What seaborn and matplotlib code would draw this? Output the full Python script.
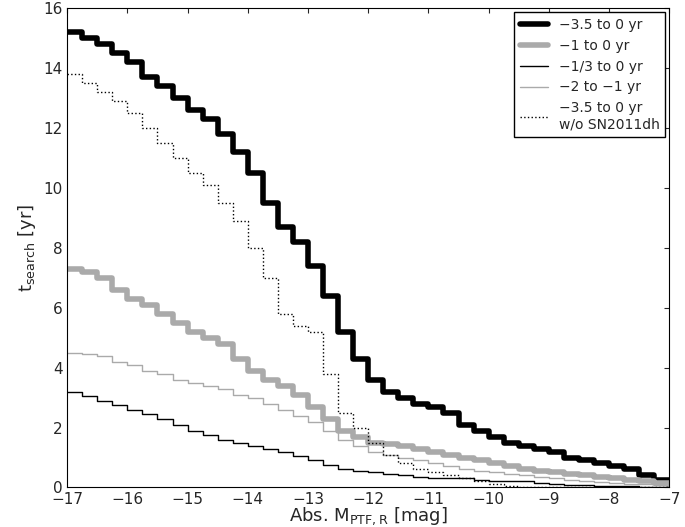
import numpy as np
import pandas as pd
import matplotlib
matplotlib.use("Agg")
import matplotlib.pyplot as plt
import seaborn as sns

# magnitude grid, -17 to -7 in 0.25 mag bins
mag = list(np.linspace(-17, -7, 41))
t_all = [15.2, 15.0, 14.8, 14.5, 14.2, 13.7, 13.4, 13.0, 12.6, 12.3, 11.8,
         11.2, 10.5, 9.5, 8.7, 8.2, 7.4, 6.4, 5.2, 4.3, 3.6, 3.2, 3.0, 2.8,
         2.7, 2.5, 2.1, 1.9, 1.7, 1.5, 1.4, 1.3, 1.2, 1.0, 0.9, 0.8, 0.7,
         0.6, 0.4, 0.25, 0.1]
t_1yr = [7.3, 7.2, 7.0, 6.6, 6.3, 6.1, 5.8, 5.5, 5.2, 5.0, 4.8, 4.3, 3.9,
         3.6, 3.4, 3.1, 2.7, 2.3, 1.9, 1.7, 1.5, 1.45, 1.4, 1.3, 1.2, 1.1,
         1.0, 0.9, 0.8, 0.7, 0.6, 0.55, 0.5, 0.45, 0.4, 0.35, 0.3, 0.25,
         0.2, 0.15, 0.05]
t_third = [3.2, 3.05, 2.9, 2.75, 2.6, 2.45, 2.3, 2.1, 1.9, 1.75, 1.6, 1.5,
           1.4, 1.3, 1.2, 1.05, 0.9, 0.75, 0.6, 0.55, 0.5, 0.45, 0.4, 0.35,
           0.3, 0.3, 0.3, 0.25, 0.2, 0.2, 0.2, 0.15, 0.1, 0.09, 0.08, 0.06,
           0.05, 0.04, 0.03, 0.02, 0.02]
t_2to1 = [4.5, 4.45, 4.4, 4.2, 4.1, 3.9, 3.8, 3.6, 3.5, 3.4, 3.3, 3.1, 3.0,
          2.8, 2.6, 2.4, 2.2, 1.9, 1.6, 1.4, 1.2, 1.1, 1.0, 0.9, 0.8, 0.7,
          0.6, 0.55, 0.5, 0.45, 0.4, 0.35, 0.3, 0.25, 0.2, 0.18, 0.15, 0.12,
          0.1, 0.07, 0.05]
t_nodh = [13.8, 13.5, 13.2, 12.9, 12.5, 12.0, 11.5, 11.0, 10.5, 10.1, 9.5,
          8.9, 8.0, 7.0, 5.8, 5.4, 5.2, 3.8, 2.5, 2.0, 1.5, 1.1, 0.8, 0.6,
          0.5, 0.4, 0.3, 0.2, 0.1, 0.05, 0.0, 0.0, 0.0, 0.0, 0.0, 0.0, 0.0,
          0.0, 0.0, 0.0, 0.0]

sns.set_style("white")
fig, ax = plt.subplots(figsize=(6.85, 5.27), dpi=100)

series = [
    (t_all, "\u22123.5 to 0 yr", "black", 4, "-"),
    (t_1yr, "\u22121 to 0 yr", "#aaaaaa", 4, "-"),
    (t_third, "\u22121/3 to 0 yr", "black", 1, "-"),
    (t_2to1, "\u22122 to \u22121 yr", "#aaaaaa", 1, "-"),
    (t_nodh, "\u22123.5 to 0 yr\nw/o SN2011dh", "black", 1, ":"),
]
for vals, lab, col, lw, ls in series:
    sns.lineplot(x=mag, y=vals, drawstyle="steps-post", color=col, lw=lw,
                 linestyle=ls, label=lab, ax=ax)

ax.set_xlim(-17, -7)
ax.set_ylim(0, 16)
ax.set_xticks(range(-17, -6))
ax.set_yticks(range(0, 17, 2))
ax.tick_params(direction="in", top=True, right=True, labelsize=11, pad=3)
for s in ax.spines.values():
    s.set_color("black")
ax.set_xlabel(r"Abs. M$_{\rm PTF,R}$ [mag]", fontsize=13, labelpad=-1)
ax.set_ylabel(r"t$_{\rm search}$ [yr]", fontsize=13)
ax.legend(loc="upper right", fontsize=10, fancybox=False,
          edgecolor="black", framealpha=1, borderaxespad=0.3)
plt.subplots_adjust(left=0.098, right=0.977, top=0.985, bottom=0.075)
fig.savefig("out.png", dpi=100)
